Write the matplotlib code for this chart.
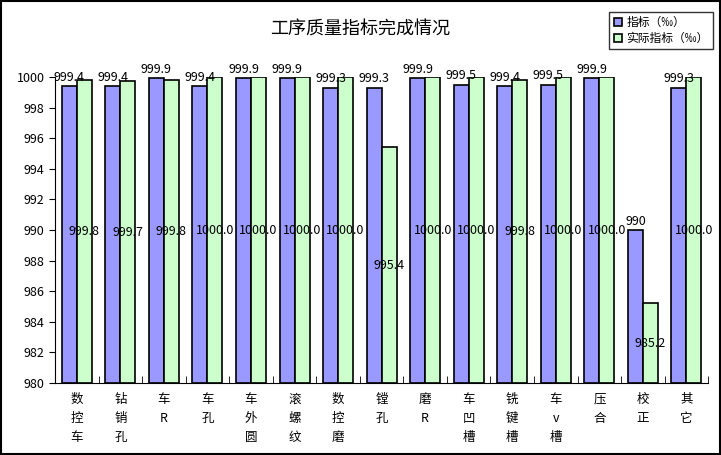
import numpy as np
import matplotlib.pyplot as plt
from matplotlib.patches import Rectangle

plt.rcParams['font.family'] = ['Noto Sans CJK SC', 'DejaVu Sans']

# categories (vertical, one char per line)
categories = ["数\n控\n车", "钻\n销\n孔", "车\nR", "车\n孔", "车\n外\n圆", "滚\n螺\n纹",
              "数\n控\n磨", "镗\n孔", "磨\nR", "车\n凹\n槽", "铣\n键\n槽", "车\nv\n槽",
              "压\n合", "校\n正", "其\n它"]
target = [999.4, 999.4, 999.9, 999.4, 999.9, 999.9, 999.3, 999.3, 999.9, 999.5,
          999.4, 999.5, 999.9, 990, 999.3]
actual = [999.8, 999.7, 999.8, 1000.0, 1000.0, 1000.0, 1000.0, 995.4, 1000.0, 1000.0,
          999.8, 1000.0, 1000.0, 985.2, 1000.0]
base = 980

fig = plt.figure(figsize=(7.21, 4.55), dpi=100)
ax = fig.add_axes([0.0763, 0.158, 0.906, 0.673])

x = np.arange(len(categories))
w = 0.345
b1 = ax.bar(x - w / 2, np.array(target) - base, w, bottom=base, color="#9999FF",
            edgecolor="black", linewidth=1.2, label="指标（‰）")
b2 = ax.bar(x + w / 2, np.array(actual) - base, w, bottom=base, color="#CCFFCC",
            edgecolor="black", linewidth=1.2, label="实际指标（‰）")

for xi, v in zip(x, target):
    ax.text(xi - w / 2, v + 0.15, f"{v:g}" if v == int(v) else f"{v:.1f}",
            ha="center", va="bottom", fontsize=9)
for xi, v in zip(x, actual):
    ax.text(xi + w / 2, (base + v) / 2, f"{v:.1f}", ha="center", va="center", fontsize=9)

ax.set_xlim(-0.5, len(categories) - 0.5)
ax.set_ylim(980, 1000)
ax.set_yticks(np.arange(980, 1001, 2))
ax.tick_params(axis="y", labelsize=9, direction="out", length=4)

ax.set_xticks(x)
ax.set_xticklabels(categories, fontsize=9, linespacing=1.6, va="top")
ax.tick_params(axis="x", length=0, pad=7)
ax.set_xticks(np.arange(-0.5, len(categories), 1), minor=True)
ax.tick_params(axis="x", which="minor", direction="in", length=5)

ax.spines["top"].set_visible(False)
ax.spines["right"].set_visible(False)

fig.text(0.5, 0.935, "工序质量指标完成情况", ha="center", va="center", fontsize=13)

leg = fig.legend(loc="upper right", bbox_to_anchor=(0.997, 0.987), fontsize=8.5,
                 frameon=True, fancybox=False, edgecolor="black", handlelength=0.7,
                 handleheight=0.7, borderpad=0.35, labelspacing=0.25, handletextpad=0.4)
leg.get_frame().set_linewidth(1.0)

fig.patches.append(Rectangle((0.001, 0.002), 0.997, 0.996, transform=fig.transFigure,
                             fill=False, edgecolor="black", linewidth=1.5))

fig.savefig("out.png", dpi=100)
